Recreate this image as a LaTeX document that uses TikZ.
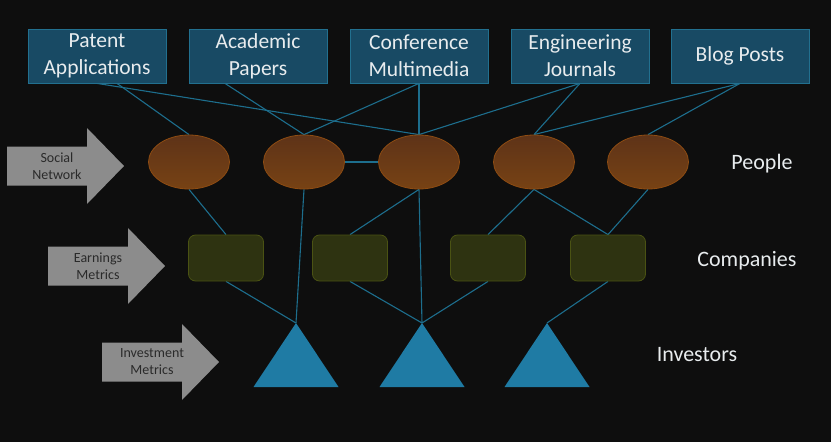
\documentclass[tikz,border=0pt]{standalone}
\usepackage{fontspec}
\setmainfont{Carlito}
\usetikzlibrary{backgrounds,shapes.geometric}
\definecolor{canvas}{HTML}{0E0E0E}
\definecolor{sourcefill}{HTML}{184A64}
\definecolor{sourceedge}{HTML}{22708F}
\definecolor{persontop}{HTML}{5E3318}
\definecolor{personbottom}{HTML}{774214}
\definecolor{personedge}{HTML}{8E4C12}
\definecolor{companyfill}{HTML}{2E3311}
\definecolor{companyedge}{HTML}{4A5213}
\definecolor{investorfill}{HTML}{1F7BA4}
\definecolor{linkcolor}{HTML}{1D6E8D}
\definecolor{labeltext}{HTML}{E8ECEE}
\definecolor{arrowgray}{HTML}{8C8C8C}
\definecolor{arrowtext}{HTML}{2A2A2A}
\tikzset{
    source/.style   = {draw=sourceedge, line width=0.8pt, fill=sourcefill,
                       text=labeltext, minimum width=138pt,
                       minimum height=54pt, inner sep=0pt, align=center,
                       font=\fontsize{21.5}{27}\selectfont},
    person/.style   = {ellipse, draw=personedge, line width=0.8pt,
                       top color=persontop, bottom color=personbottom,
                       minimum width=81pt, minimum height=54pt,
                       inner sep=0pt},
    company/.style  = {draw=companyedge, line width=0.8pt, fill=companyfill,
                       rounded corners=7pt, minimum width=75pt,
                       minimum height=46pt, inner sep=0pt},
    investor/.style = {fill=investorfill},
    link/.style     = {draw=linkcolor, line width=1.1pt},
    tier/.style     = {text=labeltext, font=\fontsize{22}{26}\selectfont},
    metric/.style   = {text=arrowtext, align=center,
                       font=\fontsize{14}{17}\selectfont}
}
\def\sourcerow{56}
\def\peoplerow{162}
\def\companyrow{258}
\def\apexrow{323}
% block arrow: left end of the shaft, centre line
\newcommand\metricarrow[2]{%
    \fill[arrowgray] (#1,#2) ++(0,-19.5) -- ++(80,0) -- ++(0,-18.5)
        -- ++(37,38) -- ++(-37,38) -- ++(0,-18.5) -- ++(-80,0) -- cycle;}
% triangle hanging from its apex
\newcommand\investor[1]{%
    \fill[investor] (#1) -- ++(42.5,64) -- ++(-85,0) -- cycle;}

\begin{document}
\begin{tikzpicture}[x=1pt, y=-1pt]

% Sources of information.
\node[source] (patent) at (97,\sourcerow) {Patent\\Applications};
\node[source] (academic) at (258,\sourcerow) {Academic\\Papers};
\node[source] (conference) at (419,\sourcerow) {Conference\\Multimedia};
\node[source] (engineering) at (580,\sourcerow) {Engineering\\Journals};
\node[source] (blog) at (740,\sourcerow) {Blog Posts};

% People, companies and investors.
\node[person] (p1) at (189,\peoplerow) {};
\node[person] (p2) at (304,\peoplerow) {};
\node[person] (p3) at (419,\peoplerow) {};
\node[person] (p4) at (534,\peoplerow) {};
\node[person] (p5) at (648,\peoplerow) {};
\node[company] (c1) at (226,\companyrow) {};
\node[company] (c2) at (350,\companyrow) {};
\node[company] (c3) at (488,\companyrow) {};
\node[company] (c4) at (608,\companyrow) {};
\coordinate (t1) at (296,\apexrow);
\coordinate (t2) at (422,\apexrow);
\coordinate (t3) at (547,\apexrow);
\investor{t1}
\investor{t2}
\investor{t3}

% Tier names.
\node[tier] (people) at (762,164) {People};
\node[tier] (companies) at (747,261) {Companies};
\node[tier] (investors) at (697,355) {Investors};

% Metrics feeding each tier.
\metricarrow{7}{166}
\metricarrow{48}{266}
\metricarrow{102}{362}
\node[metric] (social) at (57,166) {Social\\Network};
\node[metric] (earnings) at (98,266) {Earnings\\Metrics};
\node[metric] (investment) at (152,362) {Investment\\Metrics};

\begin{scope}[on background layer]
    \fill[canvas] (0,0) rectangle (831,442);
    \draw[link] ([xshift=20pt]patent.south) -- (p1.north);
    \draw[link] (patent.south) -- (p3.north);
    \draw[link] ([xshift=-33pt]academic.south) -- (p2.north);
    \draw[link] (conference.south) -- (p2.north);
    \draw[link] (conference.south) -- (p3.north);
    \draw[link] (engineering.south) -- (p3.north);
    \draw[link] (engineering.south) -- (p4.north);
    \draw[link] (blog.south) -- (p4.north);
    \draw[link] (blog.south) -- (p5.north);
    \draw[link] (p2.east) -- (p3.west);
    \draw[link] (p1.south) -- (c1.north);
    \draw[link] (p2.south) -- (t1);
    \draw[link] (p3.south) -- (c2.north);
    \draw[link] (p3.south) -- (t2);
    \draw[link] (p4.south) -- (c3.north);
    \draw[link] (p4.south) -- (c4.north);
    \draw[link] (p5.south) -- (c4.north);
    \draw[link] (c1.south) -- (t1);
    \draw[link] (c2.south) -- (t2);
    \draw[link] (c3.south) -- (t2);
    \draw[link] (c4.south) -- (t3);
\end{scope}

\end{tikzpicture}
\end{document}
